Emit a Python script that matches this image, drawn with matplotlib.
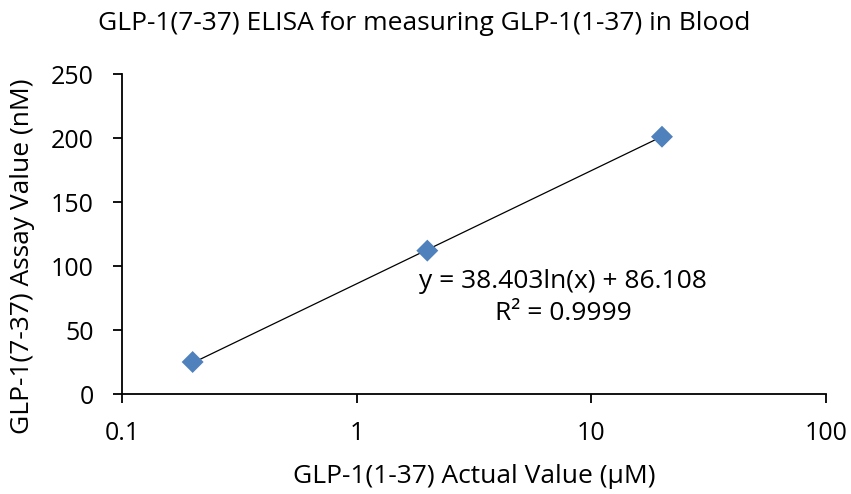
import numpy as np
import matplotlib
matplotlib.use("Agg")
import matplotlib.pyplot as plt

# data
actual = [0.2, 2, 20]          # GLP-1(1-37) actual value (uM)
assay = [25, 112, 201]         # GLP-1(7-37) assay value (nM)
slope = 38.403
intercept = 86.108
r2 = 0.9999

plt.rcParams['font.family'] = ['Open Sans', 'DejaVu Sans']

W, H = 851, 494
fig = plt.figure(figsize=(W / 100, H / 100), dpi=100)
ax = fig.add_axes([122 / W, 1 - 394 / H, (826 - 122) / W, (394 - 74) / H])

# logarithmic trendline across the data range
xs = np.logspace(np.log10(actual[0]), np.log10(actual[-1]), 50)
ax.plot(xs, slope * np.log(xs) + intercept, color='black', lw=0.9, zorder=2)
ax.scatter(actual, assay, marker='D', s=125, color='#4F81BD', zorder=3,
           edgecolors='none', clip_on=False)

ax.set_xscale('log')
ax.set_xlim(0.1, 100)
ax.set_ylim(0, 250)
ax.set_xticks([0.1, 1, 10, 100])
ax.set_xticklabels(['0.1', '1', '10', '100'])
ax.xaxis.set_minor_locator(matplotlib.ticker.NullLocator())
ax.set_yticks([0, 50, 100, 150, 200, 250])

for side in ['top', 'right']:
    ax.spines[side].set_visible(False)
for side in ['left', 'bottom']:
    ax.spines[side].set_linewidth(1.3)
ax.tick_params(axis='both', direction='out', length=6.5, width=1.3,
               labelsize=18, colors='black')
ax.tick_params(axis='x', pad=13)
ax.tick_params(axis='y', pad=14)

def put(x, y, s, **kw):
    fig.text(x / W, 1 - y / H, s, ha='center', va='center', fontsize=19, **kw)

put(563, 282, 'y = 38.403ln(x) + 86.108')
put(563, 314, 'R² = 0.9999')
put(424, 23, 'GLP-1(7-37) ELISA for measuring GLP-1(1-37) in Blood')
put(474, 476, 'GLP-1(1-37) Actual Value (µM)')
put(23, 256, 'GLP-1(7-37) Assay Value (nM)', rotation=90)

fig.savefig('out.png', dpi=100)
